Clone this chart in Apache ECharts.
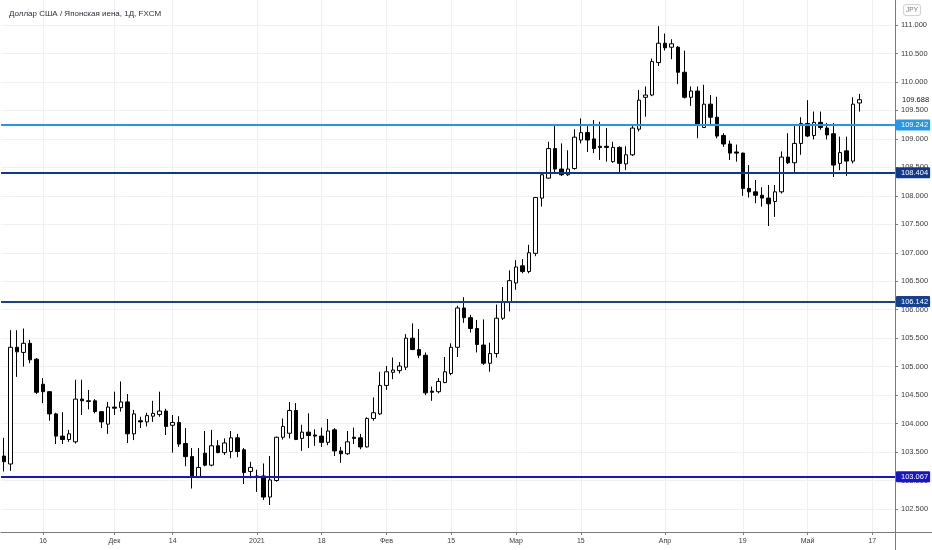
<!DOCTYPE html>
<html>
<head>
<meta charset="utf-8">
<script src="https://cdn.jsdelivr.net/npm/echarts@6/dist/echarts.min.js"></script>
<style>
html,body{margin:0;padding:0;background:#fff;}
#chart{width:932px;height:550px;}
</style>
</head>
<body>
<div id="chart"></div>
<script>
const titleText = 'Доллар США / Японская иена, 1Д, FXCM';

const dates = [
'2020-11-06','2020-11-09','2020-11-10','2020-11-11','2020-11-12','2020-11-13',
'2020-11-16','2020-11-17','2020-11-18','2020-11-19','2020-11-20',
'2020-11-23','2020-11-24','2020-11-25','2020-11-26','2020-11-27',
'2020-11-30','2020-12-01','2020-12-02','2020-12-03','2020-12-04',
'2020-12-07','2020-12-08','2020-12-09','2020-12-10','2020-12-11',
'2020-12-14','2020-12-15','2020-12-16','2020-12-17','2020-12-18',
'2020-12-21','2020-12-22','2020-12-23','2020-12-24',
'2020-12-28','2020-12-29','2020-12-30','2020-12-31',
'2021-01-04','2021-01-05','2021-01-06','2021-01-07','2021-01-08',
'2021-01-11','2021-01-12','2021-01-13','2021-01-14','2021-01-15',
'2021-01-18','2021-01-19','2021-01-20','2021-01-21','2021-01-22',
'2021-01-25','2021-01-26','2021-01-27','2021-01-28','2021-01-29',
'2021-02-01','2021-02-02','2021-02-03','2021-02-04','2021-02-05',
'2021-02-08','2021-02-09','2021-02-10','2021-02-11','2021-02-12',
'2021-02-15','2021-02-16','2021-02-17','2021-02-18','2021-02-19',
'2021-02-22','2021-02-23','2021-02-24','2021-02-25','2021-02-26',
'2021-03-01','2021-03-02','2021-03-03','2021-03-04','2021-03-05',
'2021-03-08','2021-03-09','2021-03-10','2021-03-11','2021-03-12',
'2021-03-15','2021-03-16','2021-03-17','2021-03-18','2021-03-19',
'2021-03-22','2021-03-23','2021-03-24','2021-03-25','2021-03-26',
'2021-03-29','2021-03-30','2021-03-31','2021-04-01','2021-04-02',
'2021-04-05','2021-04-06','2021-04-07','2021-04-08','2021-04-09',
'2021-04-12','2021-04-13','2021-04-14','2021-04-15','2021-04-16',
'2021-04-19','2021-04-20','2021-04-21','2021-04-22','2021-04-23',
'2021-04-26','2021-04-27','2021-04-28','2021-04-29','2021-04-30',
'2021-05-03','2021-05-04','2021-05-05','2021-05-06','2021-05-07',
'2021-05-10','2021-05-11','2021-05-12','2021-05-13','2021-05-14',
'2021-05-17','2021-05-18','2021-05-19','2021-05-20'
];

const opens = [103.43,103.29,105.34,105.25,105.41,105.13,104.69,104.56,104.17,103.78,
103.72,103.68,104.43,104.40,104.40,104.21,103.99,104.29,104.28,104.38,
103.82,104.05,104.03,104.13,104.16,104.22,103.97,104.02,103.65,103.42,
103.06,103.48,103.27,103.61,103.49,103.51,103.75,103.54,103.16,103.06,
103.08,102.71,103.00,103.76,103.83,104.23,103.74,103.85,103.80,103.78,
103.67,103.89,103.52,103.47,103.76,103.75,103.59,104.09,104.17,104.67,
104.90,104.93,104.99,105.50,105.30,105.20,104.57,104.56,104.72,104.88,
105.34,106.03,105.86,105.67,105.38,105.06,105.23,105.85,106.13,106.47,
106.77,106.67,106.99,107.96,108.31,108.83,108.47,108.37,108.48,108.98,
109.11,109.00,108.87,108.87,108.60,108.85,108.56,108.72,109.17,109.73,
109.77,110.34,110.68,110.61,110.61,110.17,109.73,109.84,109.20,109.61,
109.38,109.06,108.91,108.77,108.75,108.13,108.07,108.01,107.96,107.90,
108.07,108.68,108.58,108.92,109.27,109.06,109.29,109.19,109.09,108.57,
108.79,108.61,109.63];

const closes = [103.33,105.34,105.26,105.41,105.12,104.55,104.56,104.17,103.78,103.72,
103.82,104.43,104.40,104.39,104.21,104.03,104.29,104.27,104.38,103.82,
104.17,104.03,104.14,104.18,104.22,103.95,104.02,103.64,103.42,103.06,
103.23,103.27,103.61,103.49,103.66,103.75,103.51,103.14,103.23,103.08,
102.71,103.01,103.76,103.95,104.23,103.72,103.85,103.79,103.78,103.67,
103.87,103.52,103.47,103.68,103.74,103.59,104.09,104.19,104.67,104.91,
104.94,105.01,105.50,105.30,105.20,104.54,104.55,104.74,104.91,105.34,
106.03,105.86,105.67,105.39,105.06,105.23,105.85,106.13,106.51,106.75,
106.67,107.00,107.97,108.37,108.83,108.47,108.37,108.47,109.03,109.11,
108.98,108.83,108.85,108.85,108.85,108.57,108.72,109.19,109.68,109.77,
110.36,110.68,110.60,110.67,110.17,109.73,109.84,109.26,109.61,109.38,
109.05,108.91,108.75,108.75,108.13,108.07,108.01,107.96,107.86,108.07,
108.68,108.58,108.92,109.27,109.05,109.29,109.20,109.07,108.54,108.76,
108.61,109.61,109.688];

const lows = [103.16,103.17,104.82,105.00,105.06,104.52,104.36,104.05,103.64,103.64,
103.68,103.65,104.15,104.25,104.18,103.92,103.82,104.15,104.21,103.66,
103.71,103.92,103.95,104.03,104.12,103.80,103.49,103.59,103.25,102.86,
103.05,103.25,103.25,103.48,103.45,103.39,103.41,102.94,103.04,102.80,
102.66,102.57,102.98,103.72,103.74,103.71,103.52,103.57,103.61,103.59,
103.62,103.43,103.31,103.45,103.64,103.55,103.58,104.05,104.15,104.59,
104.78,104.88,104.94,105.29,105.15,104.50,104.40,104.53,104.71,104.85,
105.17,105.77,105.60,105.25,105.03,104.91,105.16,105.82,105.97,106.35,
106.64,106.64,106.94,107.81,108.30,108.41,108.35,108.35,108.46,108.92,
108.77,108.75,108.63,108.60,108.58,108.42,108.45,108.70,109.13,109.39,
109.75,110.28,110.55,110.40,109.96,109.71,109.58,109.01,109.19,109.23,
109.01,108.86,108.63,108.60,108.00,107.97,107.87,107.81,107.47,107.63,
108.04,108.56,108.42,108.72,109.03,108.99,109.16,108.99,108.33,108.45,
108.35,108.57,109.48];

const highs = [103.75,105.64,105.64,105.67,105.47,105.15,104.80,104.57,104.19,104.20,
103.89,104.77,104.77,104.59,104.43,104.22,104.38,104.56,104.74,104.52,
104.24,104.12,104.19,104.40,104.56,104.26,104.15,104.13,103.92,103.57,
103.57,103.87,103.89,103.71,103.74,103.87,103.82,103.57,103.33,103.19,
103.30,103.43,103.77,104.09,104.38,104.36,103.98,104.18,103.90,103.93,
104.08,103.92,103.59,103.87,103.93,103.82,104.11,104.46,104.91,105.01,
105.16,105.08,105.57,105.76,105.66,105.25,104.65,104.80,105.17,105.41,
106.07,106.22,105.91,105.82,105.83,105.42,106.09,106.40,106.69,106.87,
106.89,107.14,107.98,108.38,108.95,109.24,108.92,108.80,109.17,109.36,
109.26,109.33,109.30,109.19,108.95,108.87,108.87,109.23,109.86,109.92,
110.41,110.98,110.85,110.75,110.63,110.55,109.92,109.92,109.95,109.77,
109.74,109.10,108.97,108.90,108.76,108.54,108.28,108.15,108.19,108.19,
108.78,109.10,109.24,109.38,109.68,109.48,109.48,109.28,109.28,109.04,
109.04,109.73,109.79];

const tickDates = ['2020-11-16','2020-12-01','2020-12-14','2021-01-04','2021-01-18','2021-02-01','2021-02-15','2021-03-01','2021-03-15','2021-04-01','2021-04-19','2021-05-03','2021-05-17'];
const tickLabels = ['16','Дек','14','2021','18','Фев','15','Мар','15','Апр','19','Май','17'];

const yTicks = [102.5,103,103.5,104,104.5,105,105.5,106,106.5,107,107.5,108,108.5,109,109.5,110,110.5,111];

const levels = [109.242, 108.404, 106.142, 103.067];
const levelColors = ['#2196f3', '#0d3a8e', '#17408f', '#1414d2'];

const candleData = opens.map((o, i) => [o, closes[i], lows[i], highs[i]]);
const lastClose = closes[closes.length - 1];

const chart = echarts.init(document.getElementById('chart'), null, {renderer: 'canvas'});

const markData = levels.map((v, i) => ({
  yAxis: v,
  lineStyle: {color: levelColors[i], width: 2, type: 'solid', opacity: 1},
  label: {
    show: true, position: 'end', distance: 1,
    formatter: p => Number(p.value).toFixed(3),
    color: '#ffffff', backgroundColor: levelColors[i], opacity: 1,
    fontSize: 7.5, fontFamily: 'Liberation Sans', padding: [2, 2, 1, 5], borderRadius: 1
  }
}));
markData.push({
  yAxis: lastClose,
  lineStyle: {color: 'rgba(0,0,0,0)', width: 0, opacity: 1},
  label: {
    show: true, position: 'end', distance: 7, opacity: 1,
    formatter: p => Number(p.value).toFixed(3),
    color: '#131722', fontSize: 7.5, fontFamily: 'Liberation Sans'
  }
});

const isTick = (idx, val) => tickDates.indexOf(val) >= 0;

const option = {
  animation: false,
  backgroundColor: '#ffffff',
  title: {
    text: titleText, left: 4, top: 5,
    textStyle: {fontSize: 8, fontWeight: 'normal', color: '#2a2e39', fontFamily: 'Liberation Sans'}
  },
  grid: {left: 1, right: 37, top: 0, bottom: 18, containLabel: false},
  xAxis: {
    type: 'category',
    data: dates,
    boundaryGap: true,
    axisLine: {show: true, lineStyle: {color: '#7b7b7b', width: 1}},
    axisTick: {show: true, interval: isTick, alignWithLabel: true, length: 3, lineStyle: {color: '#7b7b7b'}},
    axisLabel: {
      interval: isTick, fontSize: 7, color: '#3b3b3b', margin: 6, fontFamily: 'Liberation Sans',
      formatter: v => tickLabels[tickDates.indexOf(v)]
    },
    splitLine: {show: true, interval: isTick, alignWithLabel: true, lineStyle: {color: '#eef0f4', width: 1}}
  },
  yAxis: {
    type: 'value',
    position: 'right',
    min: 102.096,
    max: 111.439,
    axisLine: {show: true, lineStyle: {color: '#7b7b7b', width: 1}},
    axisTick: {show: true, length: 3, customValues: yTicks, lineStyle: {color: '#7b7b7b'}},
    axisLabel: {
      customValues: yTicks, fontSize: 7.5, color: '#3b3b3b', margin: 6, fontFamily: 'Liberation Sans',
      formatter: v => Number(v).toFixed(3)
    },
    splitLine: {show: true, lineStyle: {color: '#eef0f4', width: 1}}
  },
  graphic: [
    {type: 'text', right: 11, top: 4, z: 100,
     style: {text: 'JPY', fontSize: 6.5, fill: '#777', fontFamily: 'Liberation Sans',
             backgroundColor: '#fff', borderColor: '#d0d3da', borderWidth: 1, borderRadius: 2, padding: [2, 2, 1, 2]}},
    {type: 'line', silent: true, z: 100,
     shape: {x1: 895.5, y1: 532, x2: 895.5, y2: 550}, style: {stroke: '#7b7b7b', lineWidth: 1}},
    {type: 'line', silent: true, z: 100,
     shape: {x1: 895, y1: 532.5, x2: 932, y2: 532.5}, style: {stroke: '#7b7b7b', lineWidth: 1}}
  ],
  series: [{
    type: 'candlestick',
    data: candleData,
    barWidth: 4,
    itemStyle: {
      color: '#ffffff', color0: '#000000',
      borderColor: '#000000', borderColor0: '#000000', borderWidth: 1
    },
    markLine: {
      silent: true,
      precision: 3,
      symbol: ['none', 'none'],
      animation: false,
      data: markData
    }
  }]
};
chart.setOption(option);
</script>
</body>
</html>
